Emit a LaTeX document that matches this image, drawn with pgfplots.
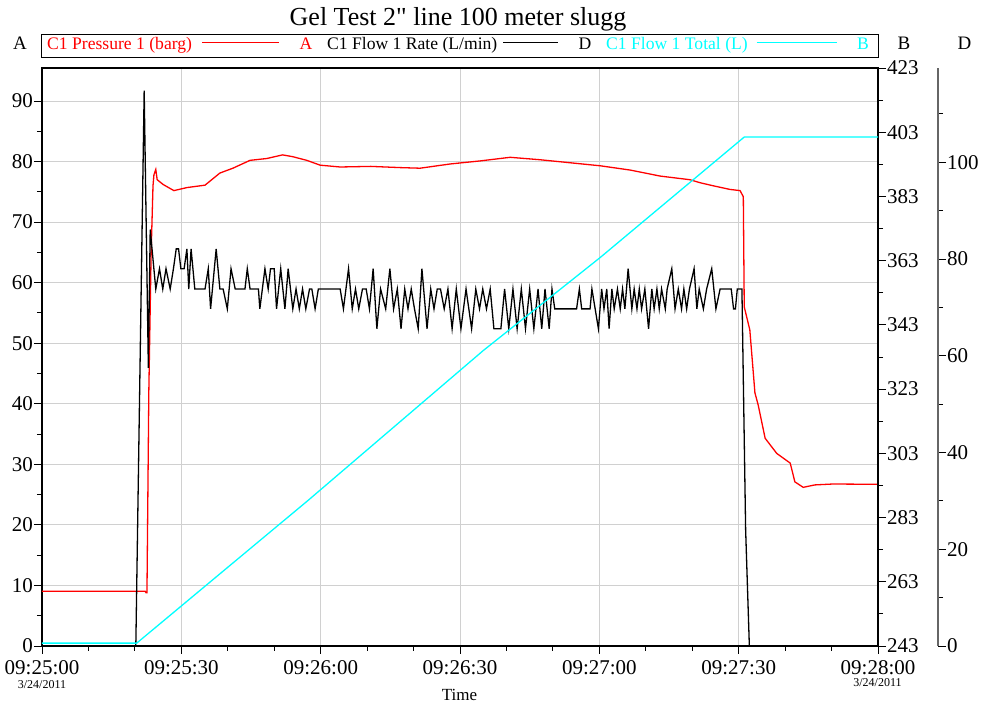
\documentclass[border=0pt]{standalone}
\usepackage{fontspec}
\setmainfont{Liberation Serif}[Ligatures=TeXOff]
\usepackage{pgfplots}
\pgfplotsset{compat=1.18}
\definecolor{gridgray}{RGB}{208,208,208}
\definecolor{cyn}{RGB}{0,255,255}
\definecolor{rd}{RGB}{255,0,0}
\newcommand{\fs}[1]{\fontsize{#1}{#1}\selectfont}
\begin{document}
\begin{tikzpicture}
\path[use as bounding box] (-42pt,-60pt) rectangle (940pt,646pt);
\pgfplotsset{
  base/.style={
    scale only axis, width=836pt, height=578pt,
    at={(0pt,0pt)}, anchor=south west,
    xmin=0, xmax=180,
    tick align=outside,
    major tick length=8pt, minor tick length=5pt,
    /pgf/number format/assume math mode=true,
    tick label style={font=\fs{21}},
    axis line style={line width=1.1pt},
    every tick/.style={black, line width=0.9pt},
  },
}
% Axis A : pressure
\begin{axis}[base,
  ymin=0, ymax=95.45,
  ytick={0,10,...,90}, minor ytick={5,15,...,85},
  xtick={0,30,...,180}, minor xtick={10,20,40,50,70,80,100,110,130,140,160,170},
  xticklabels={09:25:00,09:25:30,09:26:00,09:26:30,09:27:00,09:27:30,09:28:00},
  xtick pos=bottom, ytick pos=left,
  grid=major, major grid style={gridgray, line width=0.9pt},
  yticklabel style={inner sep=1pt},
  xticklabel style={yshift=-3pt},
]
\addplot[rd, line width=1.3pt] coordinates {
(0,9.05) (22.2,9.05) (22.4,8.8) (22.6,8.8) (23.0,42) (23.5,65) (23.9,76) (24.1,77.8) (24.5,78.7) (24.8,77.0)
(26.1,76.2) (28.4,75.2) (31.2,75.7) (35.1,76.1) (38.3,78.1) (41.1,78.9) (44.8,80.2) (48.4,80.5) (51.8,81.1)
(54.0,80.8) (57.0,80.2) (59.9,79.4) (64.2,79.1) (70.8,79.2) (77.1,79.0) (81.4,78.9) (87.9,79.6) (94.3,80.1)
(100.8,80.7) (107.2,80.3) (113.7,79.8) (120.2,79.3) (126.6,78.6) (133.1,77.6) (139.5,77.0) (141.7,76.5)
(144.5,76.0) (148.1,75.4) (150.3,75.2) (151.0,74.2) (151.2,56.0) (152.4,52.2) (153.5,41.8) (154.2,39.8)
(155.7,34.3) (158.2,31.8) (161.1,30.2) (162.1,27.1) (163.9,26.2) (166.4,26.6) (170.3,26.75) (180,26.7)
};
\end{axis}
% Axis D data : flow rate
\begin{axis}[base, hide axis, ymin=0, ymax=119.5]
\addplot[black, line width=1.3pt] coordinates {
(0,0) (20.2,0) (22.0,114.8) (22.9,57.5) (23.3,86.1) (24.5,73.8)
(25.3,78.0) (26.0,73.8) (26.7,78.0) (27.6,73.8) (28.3,78.0) (28.9,82.1) (29.4,82.1) (29.9,78.0) (30.6,78.0)
(31.2,82.1) (31.6,73.8) (32.1,82.1) (32.9,73.8) (35.1,73.8) (35.8,78.0) (36.3,69.7) (37.5,82.1) (38.3,73.8)
(39.0,73.8) (39.9,69.7) (40.7,78.0) (41.6,73.8) (43.7,73.8) (44.2,78.0) (44.8,73.8) (46.6,73.8) (46.9,69.7)
(48.0,78.0) (48.7,73.8) (49.2,78.0) (50.0,78.0) (50.5,69.7) (51.4,78.0) (52.3,69.7) (53.0,78.0) (54.0,69.7)
(54.7,73.8) (55.4,69.7) (56.1,73.8) (56.8,69.7) (57.6,73.8) (58.1,73.8) (58.8,69.7) (59.5,73.8) (64.2,73.8)
(64.9,69.7) (66.0,78.0) (66.8,69.7) (67.5,73.8) (68.2,69.7) (69.0,73.8) (69.8,73.8) (70.5,69.7) (71.3,78.0)
(72.1,65.6) (72.9,73.8) (74.0,69.7) (74.9,78.0) (75.7,69.7) (76.5,73.8) (77.3,65.6) (78.1,73.8) (78.8,69.7)
(79.5,73.8) (80.2,69.7) (81.0,65.6) (81.8,78.0) (82.9,65.6) (83.7,73.8) (84.4,69.7) (85.1,73.8) (85.8,73.8)
(86.6,69.7) (87.4,73.8) (88.3,65.6) (89.2,73.8) (90.2,65.6) (91.3,73.8) (92.5,65.6) (93.4,73.8) (94.2,69.7)
(94.9,73.8) (95.7,69.7) (96.5,73.8) (97.3,65.6) (98.8,65.6) (99.6,73.8) (100.5,65.6) (101.4,73.8) (102.3,65.6)
(103.2,73.8) (104.1,65.6) (105.0,73.8) (105.9,65.6) (106.8,73.8) (107.6,65.6) (108.3,73.8) (109.2,65.6)
(109.8,73.8) (110.4,69.7) (115.1,69.7) (115.7,73.8) (116.2,69.7) (118.0,69.7) (118.4,73.8) (119.1,69.7)
(119.8,65.6) (120.5,73.8) (121.0,69.7) (121.6,73.8) (122.1,65.6) (122.7,73.8) (123.2,69.7) (123.9,73.8)
(124.5,69.7) (125.0,73.8) (125.5,69.7) (126.2,78.0) (127.0,69.7) (127.5,73.8) (128.1,69.7) (128.6,73.8)
(129.1,69.7) (129.8,73.8) (130.6,65.6) (131.3,73.8) (131.8,69.7) (132.4,73.8) (132.9,69.7) (133.4,73.8)
(134.2,69.7) (134.6,73.8) (135.6,78.0) (136.3,69.7) (137.0,73.8) (137.7,69.7) (138.2,73.8) (138.8,69.7)
(139.4,73.8) (140.4,78.0) (141.0,69.7) (141.5,73.8) (142.4,69.7) (143.1,73.8) (144.2,78.0) (145.1,69.7)
(146.0,73.8) (148.4,73.8) (148.9,69.7) (149.3,69.7) (149.7,73.8) (150.7,73.8) (151.5,24) (152.3,0) (180,0)
};
\end{axis}
% Axis B : total
\begin{axis}[base, ymin=243, ymax=423, axis y line*=right, axis x line=none,
  ytick={243,263,...,423}, minor ytick={253,273,...,413},
  yticklabel style={inner sep=1pt}]
\addplot[cyn, line width=1.3pt] coordinates {
(0,243.9) (20.4,243.9) (57.5,288.6) (95.0,335.0) (120.2,364.0) (151.2,401.5) (180,401.5)
};
\end{axis}
% Axis D scale
\begin{axis}[base, width=60pt, at={(836pt,0pt)}, xmin=0, xmax=1, ymin=0, ymax=119.5,
  axis y line*=right, axis x line=none,
  ytick={0,20,...,100}, minor ytick={10,30,...,110},
  axis line style={black!60, line width=1.1pt},
  yticklabel style={inner sep=1pt}]
\end{axis}
\begin{scope}[x=1pt,y=1pt]
\node[anchor=base, font=\fs{26}] at (416,620) {Gel Test 2" line 100 meter slugg};
\draw[line width=0.8pt] (-0.3,588.7) rectangle (836,612);
\node[anchor=base, font=\fs{19}] at (-22,596) {A};
\node[anchor=base west, font=\fs{17.6}, text=rd, inner sep=0pt] at (5,596) {C1 Pressure 1 (barg)};
\draw[rd, line width=1.5pt] (160,603.3) -- (237.3,603.3);
\node[anchor=base, font=\fs{17.6}, text=rd] at (264,596) {A};
\node[anchor=base west, font=\fs{17.6}, inner sep=0pt] at (285,596) {C1 Flow 1 Rate (L/min)};
\draw[black, line width=1.5pt] (461,603.3) -- (516,603.3);
\node[anchor=base, font=\fs{17.6}] at (543,596) {D};
\node[anchor=base west, font=\fs{17.6}, text=cyn, inner sep=0pt] at (564,596) {C1 Flow 1 Total (L)};
\draw[cyn, line width=1.5pt] (714.7,603.3) -- (794.7,603.3);
\node[anchor=base, font=\fs{17.6}, text=cyn] at (821,596) {B};
\node[anchor=base, font=\fs{19}] at (862,596) {B};
\node[anchor=base, font=\fs{19}] at (922.5,596) {D};
\node[anchor=base, font=\fs{12}] at (0,-42) {3/24/2011};
\node[anchor=base, font=\fs{12}] at (835.5,-41) {3/24/2011};
\node[anchor=base, font=\fs{17}] at (417.5,-54) {Time};
\end{scope}
\end{tikzpicture}
\end{document}
